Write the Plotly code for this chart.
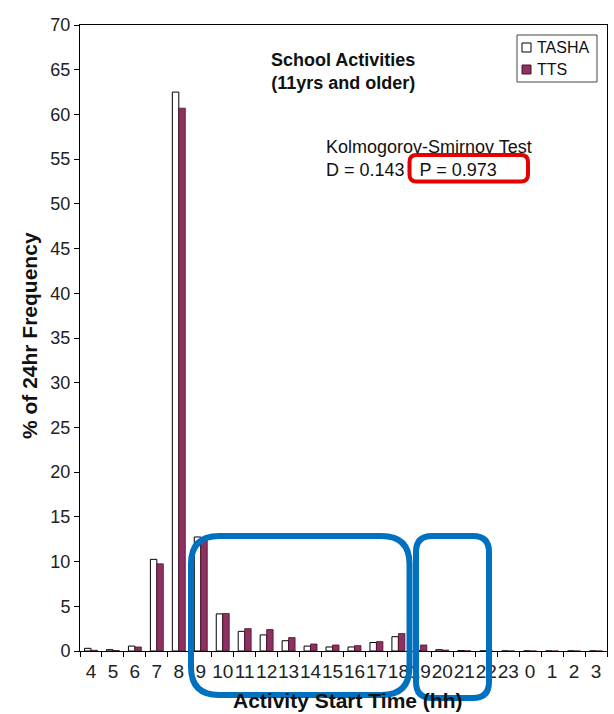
import plotly.graph_objects as go

# Activity start hour (hh), from 4 am through 3 am the next day
hours = ["4", "5", "6", "7", "8", "9", "10", "11", "12", "13", "14", "15",
         "16", "17", "18", "19", "20", "21", "22", "23", "0", "1", "2", "3"]

# % of 24hr frequency for school activities (11yrs and older)
tasha = [0.30, 0.15, 0.55, 10.25, 62.5, 12.75, 4.15, 2.2, 1.8, 1.15, 0.55, 0.45,
         0.45, 0.95, 1.6, 0.05, 0.15, 0.03, 0, 0, 0, 0, 0, 0]
tts = [0.08, 0.05, 0.45, 9.75, 60.7, 12.5, 4.2, 2.5, 2.4, 1.5, 0.78, 0.67,
       0.6, 1.05, 1.95, 0.67, 0.1, 0.02, 0, 0, 0, 0, 0, 0]

series_names = ["TASHA", "TTS"]

ks_d = 0.143
ks_p = 0.973

W, H = 614, 714
L, R, T, B = 80, 7, 25, 63
PW, PH = W - L - R, H - T - B

FONT = "Liberation Sans, Arial, sans-serif"
MAROON = "#8E3160"
FILLS = ["white", MAROON]
EDGES = ["black", "#4a1230"]


def px(x):
    return (x - L) / PW


def py(y):
    return (H - B - y) / PH


def rounded_rect(x0, y0, x1, y1, r):
    """Rounded rectangle path in paper coordinates from pixel corners."""
    pts = [
        ("M", (x0 + r, y0)),
        ("L", (x1 - r, y0)),
        ("Q", (x1, y0), (x1, y0 + r)),
        ("L", (x1, y1 - r)),
        ("Q", (x1, y1), (x1 - r, y1)),
        ("L", (x0 + r, y1)),
        ("Q", (x0, y1), (x0, y1 - r)),
        ("L", (x0, y0 + r)),
        ("Q", (x0, y0), (x0 + r, y0)),
    ]
    out = []
    for cmd, *coords in pts:
        out.append(cmd + " ".join(f"{px(a):.5f},{py(b):.5f}" for a, b in coords))
    return " ".join(out) + " Z"


fig = go.Figure()
for name, vals, fill, edge in zip(series_names, [tasha, tts], FILLS, EDGES):
    fig.add_trace(go.Bar(
        x=hours, y=vals, name=name,
        marker=dict(color=fill, line=dict(color=edge, width=1 if fill == "white" else 0.8)),
    ))

fig.update_layout(
    width=W, height=H,
    margin=dict(l=L, r=R, t=T, b=B),
    paper_bgcolor="white", plot_bgcolor="white",
    barmode="group", bargap=0.41, bargroupgap=0,
    font=dict(family=FONT, size=18, color="#222"),
    showlegend=False,
    xaxis=dict(
        type="category", showline=True, linecolor="black", linewidth=1,
        mirror=True, ticks="outside", ticklen=5, tickcolor="black",
        tickson="boundaries", showgrid=False, zeroline=False,
        tickmode="array", tickvals=hours, ticktext=hours, tickangle=0,
        ticklabelstandoff=3,
        tickfont=dict(size=19, color="#222"),
    ),
    yaxis=dict(
        range=[0, 70], dtick=5, showline=True, linecolor="black", linewidth=1,
        mirror=True, ticks="outside", ticklen=5, tickcolor="black",
        showgrid=False, zeroline=False,
        tickfont=dict(size=18, color="#222"),
    ),
)

annotations = [
    dict(text="<b>School Activities<br>(11yrs and older)</b>",
         x=px(343), y=py(71.5), xanchor="center", yanchor="middle",
         font=dict(size=18, color="#111")),
    dict(text=f"Kolmogorov-Smirnov Test<br>D = {ks_d}\u00a0\u00a0\u00a0P = {ks_p}",
         x=px(324), y=py(158.5), xanchor="left", yanchor="middle", align="left",
         font=dict(size=18, color="#111")),
    dict(text="<b>Activity Start Time (hh)</b>",
         x=px(347), y=py(714), xanchor="center", yanchor="bottom",
         font=dict(size=21, color="#111")),
    dict(text="<b>% of 24hr Frequency</b>", textangle=-90,
         x=px(29), y=py(336), xanchor="center", yanchor="middle",
         font=dict(size=21, color="#111")),
]

# Legend box drawn as a frame, swatches and labels
LEG_X0, LEG_X1, LEG_Y0, LEG_Y1 = 517, 597, 35, 82
leg_rows = [47.5, 69.5]
shapes = [
    dict(type="rect", x0=px(LEG_X0), x1=px(LEG_X1), y0=py(LEG_Y0), y1=py(LEG_Y1),
         line=dict(color="#444", width=1), fillcolor="white"),
]
for name, fill, edge, yc in zip(series_names, FILLS, EDGES, leg_rows):
    shapes.append(dict(type="rect", x0=px(522), x1=px(531), y0=py(yc - 4.5), y1=py(yc + 4.5),
                       line=dict(color="black" if fill == "white" else edge, width=1),
                       fillcolor=fill))
    annotations.append(dict(text=name, x=px(535), y=py(yc), xanchor="left", yanchor="middle",
                            font=dict(size=16, color="#111")))

for a in annotations:
    a.update(xref="paper", yref="paper", showarrow=False)
fig.update_layout(annotations=annotations)

shapes += [
    dict(type="path", path=rounded_rect(409.5, 155, 528, 181.5, 7),
         line=dict(color="#E50000", width=4)),
    dict(type="path", path=rounded_rect(191, 536, 409.5, 695, 28),
         line=dict(color="#0070C0", width=6)),
    dict(type="path", path=rounded_rect(416, 536, 489, 698, 16),
         line=dict(color="#0070C0", width=6)),
]
for s in shapes:
    s.update(xref="paper", yref="paper", layer="above")
fig.update_layout(shapes=shapes)

fig.write_html("out.html")
